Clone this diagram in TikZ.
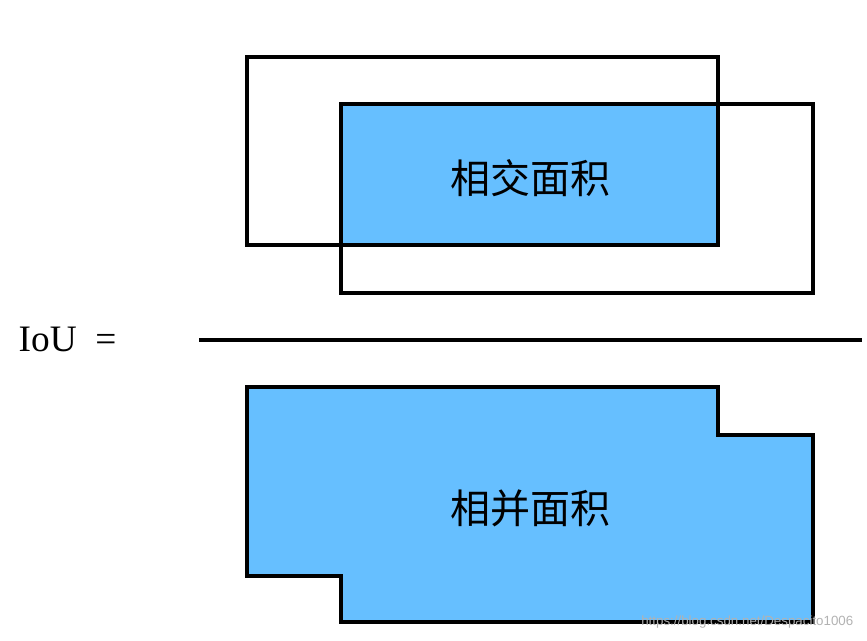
\documentclass[tikz,border=0pt]{standalone}
\usepackage{fontspec}
\setmainfont{Liberation Serif}
\newfontfamily\cjk{Noto Sans CJK SC}
\newfontfamily\wm{Liberation Sans}
\definecolor{fillb}{HTML}{66BFFF}
\begin{document}
\begin{tikzpicture}[x=0.75pt,y=-0.75pt,
  box/.style={draw=black,line width=3pt},
  lbl/.style={font=\cjk\fontsize{30}{34}\selectfont}]
\useasboundingbox (0,0) rectangle (867,641);
\fill[fillb] (341,104) rectangle (718,245);
\draw[box] (247,57) rectangle (718,245);
\draw[box] (341,104) rectangle (813,293);
\node[lbl] (inter) at (530,178) {相交面积};
\draw[box,fill=fillb] (247,387) -- (718,387) -- (718,435) -- (813,435) -- (813,622) -- (341,622) -- (341,576) -- (247,576) -- cycle;
\node[lbl] (union) at (530,508) {相并面积};
\coordinate (l1) at (199,340);
\coordinate (l2) at (862,340);
\draw[line width=3pt] (l1) -- (l2);
\node[anchor=west,font=\fontsize{28}{32}\selectfont] (iou) at (14,339) {IoU\ \ =};
\node[anchor=east,font=\wm\fontsize{10}{12}\selectfont,text=black!30] (wm) at (858,622) {https://blog.csdn.net/Despacito1006};
\end{tikzpicture}
\end{document}
